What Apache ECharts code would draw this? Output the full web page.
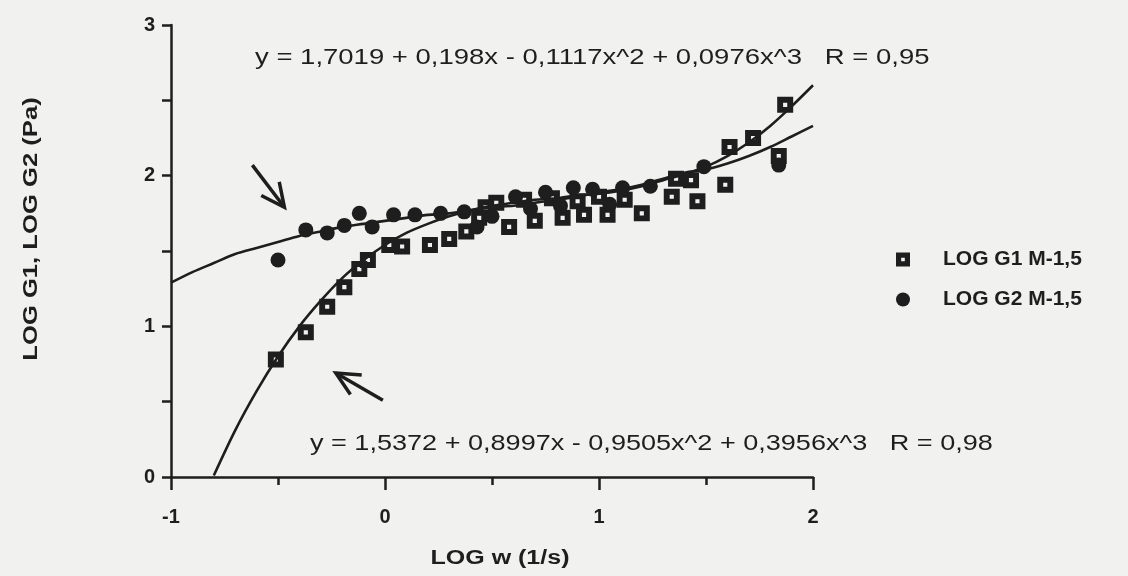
<!DOCTYPE html>
<html>
<head>
<meta charset="utf-8">
<script src="https://cdn.jsdelivr.net/npm/echarts@6/dist/echarts.min.js"></script>
<style>
html,body{margin:0;padding:0;background:#f1f2f0;}
#c{width:1128px;height:576px;}
</style>
</head>
<body>
<div id="c"></div>
<script>
// ---- data ----
const g1X = [-0.51,-0.37,-0.27,-0.19,-0.12,-0.08,0.02,0.08,0.21,0.30,0.38,0.44,0.47,0.52,0.58,0.65,0.70,0.78,0.83,0.90,0.93,1.00,1.04,1.12,1.20,1.34,1.36,1.43,1.46,1.59,1.61,1.72,1.84,1.87];
const g1Y = [0.78,0.96,1.13,1.26,1.38,1.44,1.54,1.53,1.54,1.58,1.63,1.72,1.79,1.82,1.66,1.84,1.70,1.85,1.72,1.83,1.74,1.86,1.74,1.84,1.75,1.86,1.98,1.97,1.83,1.94,2.19,2.25,2.13,2.47];
const g2X = [-0.50,-0.37,-0.27,-0.19,-0.12,-0.06,0.04,0.14,0.26,0.37,0.43,0.50,0.61,0.68,0.75,0.82,0.88,0.97,1.05,1.11,1.24,1.49,1.84];
const g2Y = [1.44,1.64,1.62,1.67,1.75,1.66,1.74,1.74,1.75,1.76,1.66,1.73,1.86,1.78,1.89,1.80,1.92,1.91,1.81,1.92,1.93,2.06,2.07];
const fit1X = [-0.8,-0.7,-0.6,-0.5,-0.4,-0.3,-0.2,-0.1,0,0.1,0.2,0.3,0.4,0.5,0.6,0.7,0.8,0.9,1.0,1.1,1.2,1.3,1.4,1.5,1.6,1.7,1.8,1.9,2.0];
const fit1Y = [0.01,0.31,0.57,0.80,1.00,1.17,1.32,1.44,1.54,1.62,1.68,1.73,1.77,1.80,1.82,1.84,1.85,1.87,1.88,1.90,1.93,1.97,2.01,2.06,2.13,2.22,2.33,2.46,2.60];
const fit2X = [-1.0,-0.9,-0.8,-0.7,-0.6,-0.5,-0.4,-0.3,-0.2,-0.1,0,0.1,0.2,0.3,0.4,0.5,0.6,0.7,0.8,0.9,1.0,1.1,1.2,1.3,1.4,1.5,1.6,1.7,1.8,1.9,2.0];
const fit2Y = [1.29,1.36,1.42,1.48,1.52,1.56,1.60,1.63,1.66,1.68,1.70,1.72,1.74,1.75,1.77,1.79,1.80,1.82,1.84,1.86,1.89,1.91,1.94,1.98,2.02,2.04,2.08,2.13,2.19,2.26,2.33];
const xTicks = [-1,0,1,2];
const yTicks = [0,1,2,3];
const seriesNames = ['LOG G1 M-1,5','LOG G2 M-1,5'];
const xTitle = 'LOG w (1/s)';
const yTitle = 'LOG G1, LOG G2 (Pa)';
const eq1 = 'y = 1,7019 + 0,198x - 0,1117x^2 + 0,0976x^3   R = 0,95';
const eq2 = 'y = 1,5372 + 0,8997x - 0,9505x^2 + 0,3956x^3   R = 0,98';
const arrows = [ [[-0.62,2.07],[-0.47,1.79]], [[-0.01,0.51],[-0.23,0.69]] ];

const ink = '#1e1e1e';
const bg = '#f1f2f0';
const font = '"Liberation Sans", Arial, sans-serif';
const zip = (a,b) => a.map((v,i)=>[v,b[i]]);
// dark square with a small hole
const holedSquare = 'path://M0,0L10,0L10,10L0,10Z M3.7,3.7L3.7,6.3L6.3,6.3L6.3,3.7Z';

const chart = echarts.init(document.getElementById('c'));
chart.setOption({
  backgroundColor:bg,
  animation:false,
  grid:{left:171,right:315,top:25,bottom:99},
  xAxis:{type:'value',min:-1,max:2,interval:1,
    axisLine:{show:true,onZero:false,lineStyle:{color:ink,width:2.5}},
    axisTick:{show:true,length:13,lineStyle:{color:ink,width:2.5}},
    minorTick:{show:true,splitNumber:2,length:8,lineStyle:{color:ink,width:2.5}},
    splitLine:{show:false},
    axisLabel:{margin:30,color:ink,fontFamily:font,fontSize:20,fontWeight:'bold',
      formatter:v=> xTicks.includes(v)? String(v):''}},
  yAxis:{type:'value',min:0,max:3,interval:0.5,
    axisLine:{show:true,onZero:false,lineStyle:{color:ink,width:2.5}},
    axisTick:{show:true,length:9,lineStyle:{color:ink,width:2.5}},
    splitLine:{show:false},
    axisLabel:{margin:16,color:ink,fontFamily:font,fontSize:20,fontWeight:'bold',
      formatter:v=> yTicks.includes(v)? String(v):''}},
  legend:{orient:'vertical',left:891,top:244,itemGap:19,itemWidth:14,itemHeight:14,
    data:[{name:seriesNames[0],icon:holedSquare},{name:seriesNames[1],icon:'circle'}],
    textStyle:{color:ink,fontFamily:font,fontSize:21,fontWeight:'bold',padding:[0,0,0,28]}},
  series:[
    {type:'line',data:zip(fit1X,fit1Y),showSymbol:false,smooth:0.3,silent:true,
      lineStyle:{color:ink,width:2.6},z:2},
    {type:'line',data:zip(fit2X,fit2Y),showSymbol:false,smooth:0.3,silent:true,
      lineStyle:{color:ink,width:2.6},z:2},
    {name:seriesNames[0],type:'scatter',symbol:holedSquare,symbolSize:16,data:zip(g1X,g1Y),
      itemStyle:{color:ink,opacity:1},z:3},
    {name:seriesNames[1],type:'scatter',symbol:'circle',symbolSize:15,data:zip(g2X,g2Y),
      itemStyle:{color:ink,opacity:1},z:3}
  ]
});

// annotation graphics
const gfx = [
  {type:'text',x:255,y:47,scaleX:1.25,style:{text:eq1,fill:ink,font:'22px '+font}},
  {type:'text',x:310,y:433,scaleX:1.23,style:{text:eq2,fill:ink,font:'22px '+font}},
  {type:'text',x:500,y:558,scaleX:1.25,style:{text:xTitle,fill:ink,font:'bold 20px '+font,align:'center',verticalAlign:'middle'}},
  {type:'text',x:31,y:229,rotation:Math.PI/2,scaleX:1.22,style:{text:yTitle,fill:ink,font:'bold 21px '+font,align:'center',verticalAlign:'middle'}}
];
arrows.forEach(([tail,tip])=>{
  const a = chart.convertToPixel({gridIndex:0},tail);
  const b = chart.convertToPixel({gridIndex:0},tip);
  const ang = Math.atan2(b[1]-a[1], b[0]-a[0]);
  const L = 26, sp = 0.45;
  const h1 = [b[0]-L*Math.cos(ang-sp), b[1]-L*Math.sin(ang-sp)];
  const h2 = [b[0]-L*Math.cos(ang+sp), b[1]-L*Math.sin(ang+sp)];
  gfx.push({type:'polyline',shape:{points:[a,b]},style:{stroke:ink,lineWidth:3.5,fill:null}});
  gfx.push({type:'polyline',shape:{points:[h1,b,h2]},style:{stroke:ink,lineWidth:3.5,fill:null}});
});
chart.setOption({graphic:gfx});
</script>
</body>
</html>
